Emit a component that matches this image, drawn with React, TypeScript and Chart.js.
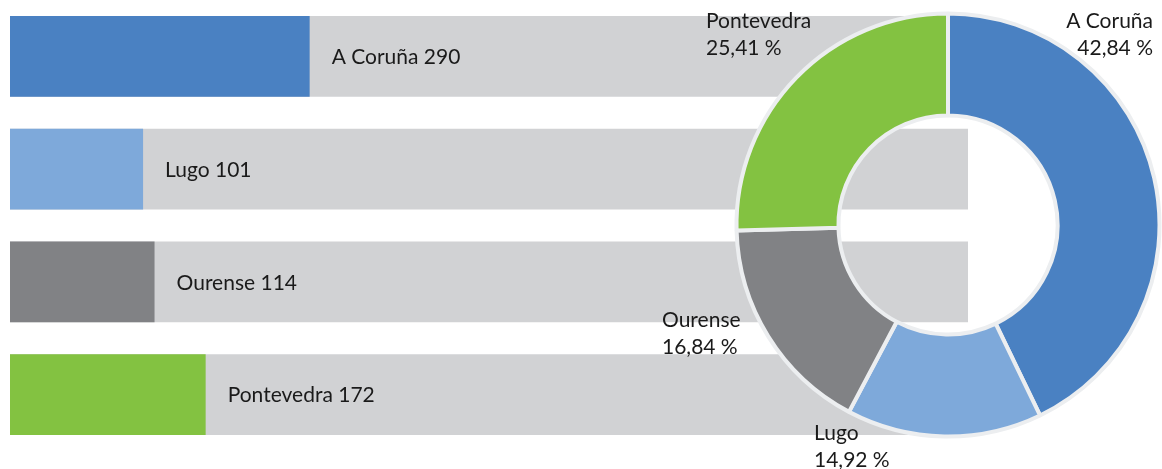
import React, { useEffect, useRef } from "react";
import { Chart, registerables } from "chart.js";

Chart.register(...registerables);

const CATEGORIES = ["A Coruña", "Lugo", "Ourense", "Pontevedra"];
const VALUES = [290, 101, 114, 172];
const PERCENT_LABELS = ["42,84 %", "14,92 %", "16,84 %", "25,41 %"];
const COLORS = ["#4a81c2", "#7ea9da", "#818285", "#83c241"];
const SCALE_BASE = -50;
const TRACK_MAX = 1037;
const TRACK = CATEGORIES.map(() => TRACK_MAX);

const FONT = "21px Lato";
const TEXT_COLOR = "#1a1a1a";

// label placement for the doughnut, relative to its centre
const DONUT_LABEL_LAYOUT = [
  { dx: 205, dy: -204, align: "right" },
  { dx: -134, dy: 208, align: "left" },
  { dx: -286, dy: 95, align: "left" },
  { dx: -242, dy: -204, align: "left" },
];

const barLabelPlugin = {
  id: "barLabels",
  afterDatasetsDraw(chart: any) {
    const meta = chart.getDatasetMeta(0);
    const ctx = chart.ctx;
    ctx.save();
    ctx.font = FONT;
    ctx.fillStyle = TEXT_COLOR;
    ctx.textBaseline = "middle";
    ctx.textAlign = "left";
    meta.data.forEach((bar: any, i: number) => {
      ctx.fillText(`${CATEGORIES[i]} ${VALUES[i]}`, bar.x + 22, bar.y + 1);
    });
    ctx.restore();
  },
};

const donutLabelPlugin = {
  id: "donutLabels",
  afterDatasetsDraw(chart: any) {
    const meta = chart.getDatasetMeta(0);
    const ctx = chart.ctx;
    const arc0 = meta.data[0];
    if (!arc0) return;
    const cx = arc0.x;
    const cy = arc0.y;
    ctx.save();
    ctx.font = FONT;
    ctx.fillStyle = TEXT_COLOR;
    ctx.textBaseline = "middle";
    meta.data.forEach((_arc: any, i: number) => {
      const l = DONUT_LABEL_LAYOUT[i];
      ctx.textAlign = l.align;
      ctx.fillText(CATEGORIES[i], cx + l.dx, cy + l.dy);
      ctx.fillText(PERCENT_LABELS[i], cx + l.dx, cy + l.dy + 27);
    });
    ctx.restore();
  },
};

export default function App() {
  const barRef = useRef<HTMLCanvasElement>(null);
  const donutRef = useRef<HTMLCanvasElement>(null);

  useEffect(() => {
    const bar = new Chart(barRef.current as HTMLCanvasElement, {
      type: "bar",
      data: {
        labels: CATEGORIES,
        datasets: [
          {
            data: VALUES,
            backgroundColor: COLORS,
            base: SCALE_BASE,
            grouped: false,
            order: 0,
            barPercentage: 0.717,
            categoryPercentage: 1,
            borderWidth: 0,
          } as any,
          {
            data: TRACK,
            backgroundColor: "#d1d2d4",
            base: SCALE_BASE,
            grouped: false,
            order: 1,
            barPercentage: 0.717,
            categoryPercentage: 1,
            borderWidth: 0,
          } as any,
        ],
      },
      options: {
        indexAxis: "y",
        animation: false,
        responsive: false,
        events: [],
        layout: { padding: { left: 10, right: 194, top: -1, bottom: 18 } },
        plugins: { legend: { display: false }, tooltip: { enabled: false } },
        scales: {
          x: { type: "linear", min: SCALE_BASE, max: TRACK_MAX, display: false },
          y: { type: "category", display: false },
        },
      },
      plugins: [barLabelPlugin],
    });

    const donut = new Chart(donutRef.current as HTMLCanvasElement, {
      type: "doughnut",
      data: {
        labels: CATEGORIES,
        datasets: [
          {
            data: VALUES,
            backgroundColor: COLORS,
            borderColor: "#eceef0",
            borderWidth: 4,
          },
        ],
      },
      options: {
        animation: false,
        responsive: false,
        events: [],
        radius: 211.5,
        cutout: "51.8%",
        layout: { padding: { left: 734, right: 0, top: 11, bottom: 30 } },
        plugins: { legend: { display: false }, tooltip: { enabled: false } },
      } as any,
      plugins: [donutLabelPlugin],
    });

    return () => {
      bar.destroy();
      donut.destroy();
    };
  }, []);

  return (
    <div style={{ position: "fixed", left: 0, top: 0, width: 1162, height: 469, background: "#fff" }}>
      <canvas ref={barRef} width={1162} height={469} style={{ position: "absolute", left: 0, top: 0 }} />
      <canvas ref={donutRef} width={1162} height={469} style={{ position: "absolute", left: 0, top: 0 }} />
    </div>
  );
}
